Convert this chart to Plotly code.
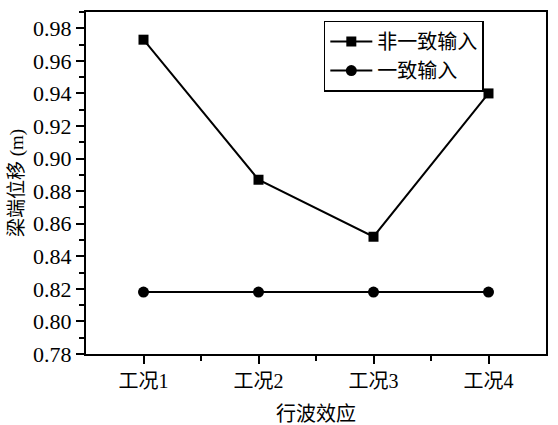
import plotly.graph_objects as go

categories = ["工况1", "工况2", "工况3", "工况4"]
x_pos = [1, 2, 3, 4]
nonuniform = [0.973, 0.887, 0.852, 0.940]
uniform = [0.818, 0.818, 0.818, 0.818]
y_ticks = [0.78, 0.80, 0.82, 0.84, 0.86, 0.88, 0.90, 0.92, 0.94, 0.96, 0.98]

font_family = "Liberation Serif, Noto Sans CJK SC, serif"

fig = go.Figure()
fig.add_trace(go.Scatter(
    x=x_pos, y=nonuniform, mode="lines+markers", name="非一致输入",
    line=dict(color="black", width=2),
    marker=dict(symbol="square", size=10, color="black"),
))
fig.add_trace(go.Scatter(
    x=x_pos, y=uniform, mode="lines+markers", name="一致输入",
    line=dict(color="black", width=2),
    marker=dict(symbol="circle", size=11, color="black"),
))

fig.update_layout(
    width=558, height=425,
    margin=dict(l=86, r=10, t=12, b=71),
    paper_bgcolor="white", plot_bgcolor="white",
    font=dict(family=font_family, size=21, color="black"),
    showlegend=True,
    legend=dict(
        x=0.517, y=0.975, xanchor="left", yanchor="top",
        bordercolor="black", borderwidth=1.5, bgcolor="white",
        font=dict(size=20), tracegroupgap=0, itemwidth=42,
    ),
    xaxis=dict(
        range=[0.5, 4.5], tickvals=x_pos, ticktext=categories,
        showgrid=False, zeroline=False, automargin=False,
        showline=True, linecolor="black", linewidth=2, mirror=True,
        ticks="outside", ticklen=8, tickwidth=2, tickcolor="black",
        minor=dict(tickvals=[1.5, 2.5, 3.5], ticks="outside", ticklen=5, tickwidth=2, tickcolor="black"),
        title=dict(text="行波效应", standoff=16, font=dict(size=20)),
        tickfont=dict(size=20),
    ),
    yaxis=dict(
        range=[0.78, 0.99], tickvals=y_ticks, tickformat=".2f",
        showgrid=False, zeroline=False,
        showline=True, linecolor="black", linewidth=2, mirror=True,
        ticks="outside", ticklen=8, tickwidth=2, tickcolor="black",
        minor=dict(dtick=0.01, ticks="outside", ticklen=5, tickwidth=2, tickcolor="black"),
        title=dict(text="梁端位移 (m)", standoff=4, font=dict(size=19)),
        tickfont=dict(size=22),
    ),
)

fig.write_html("out.html", config={"displayModeBar": False},
               post_script="document.body.style.margin='0px';")
